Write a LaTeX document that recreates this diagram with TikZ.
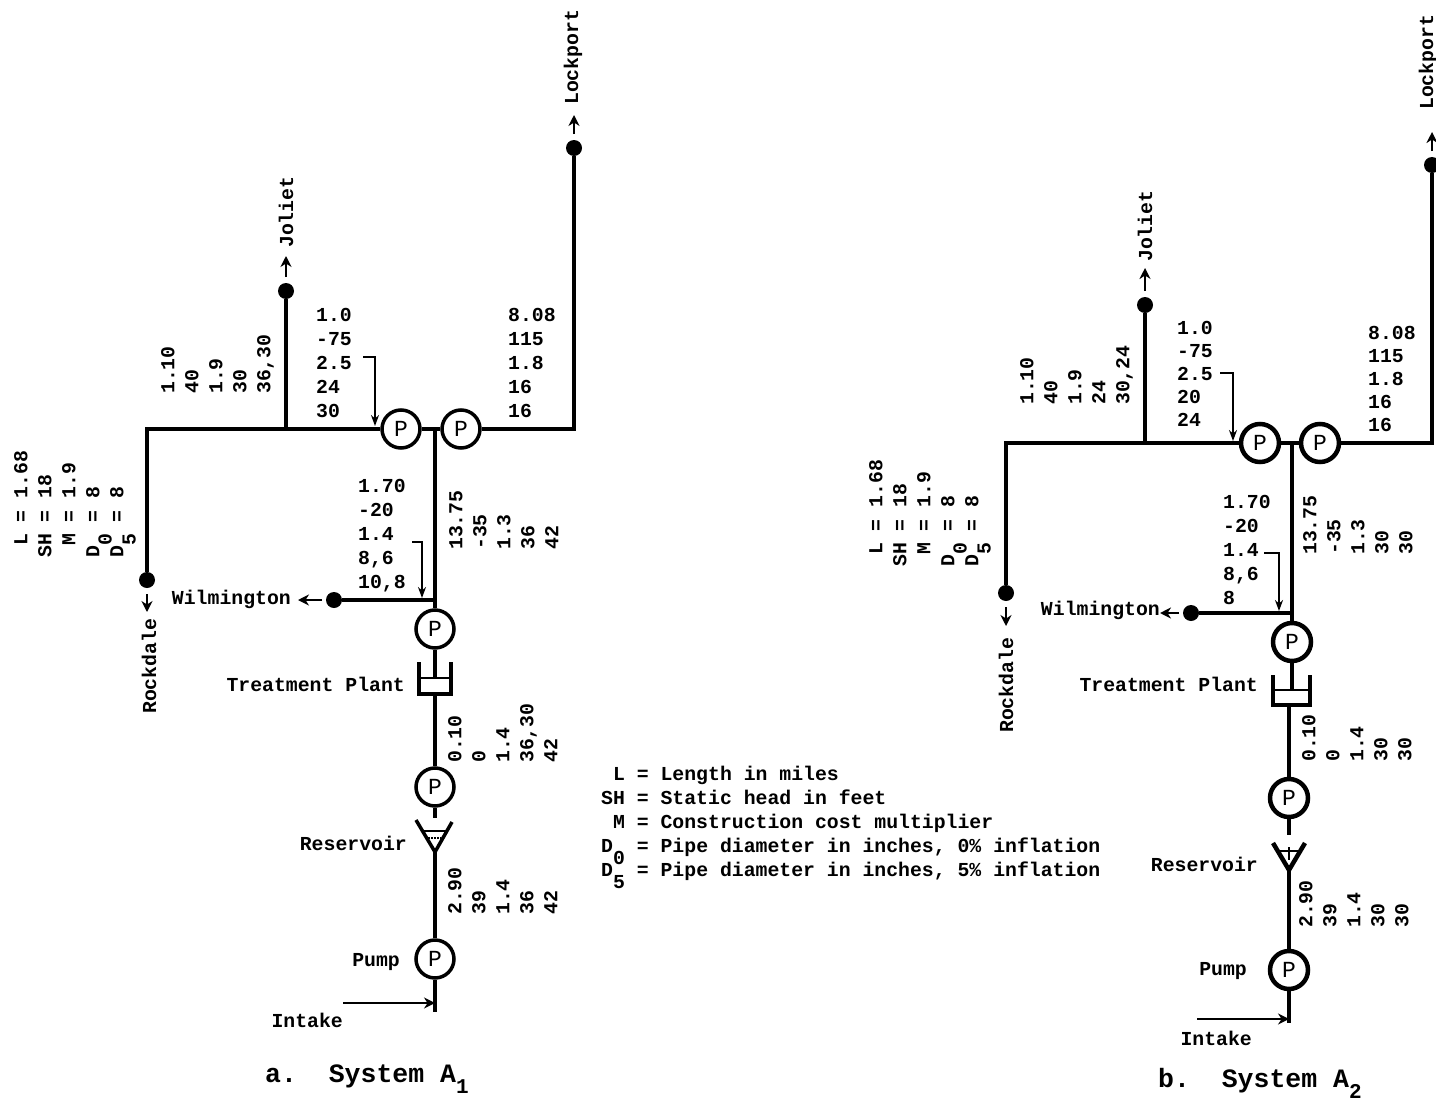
\documentclass[tikz,border=0pt]{standalone}
\usepackage{fontspec}
\setmainfont{Liberation Mono}
\usetikzlibrary{arrows.meta}
\newcommand{\sbs}[1]{\raisebox{-0.62em}[0pt][0pt]{#1}}
\newcommand{\capsbs}[1]{\raisebox{-0.42em}[0pt][0pt]{\fontsize{21}{21}\selectfont\bfseries #1}}
\begin{document}
\begin{tikzpicture}[
    x=1pt, y=-1pt,
    font=\fontsize{19.8}{24}\selectfont\bfseries,
    pipe/.style={line width=3.5pt},
    pipeb/.style={line width=4.5pt},
    flowarr/.style={-{Stealth[length=11pt,width=11pt]}, line width=2.5pt},
    notearr/.style={-{Stealth[length=11pt,width=8pt]}, line width=1.8pt},
    pumpnode/.style={
        circle, draw, fill=white, minimum size=38pt, inner sep=0pt, line width=3.5pt,
        font=\fontsize{23}{23}\selectfont,
    },
    pumpnodeb/.style={pumpnode, line width=4.5pt},
    dotnode/.style={circle, fill=black, minimum size=16pt, inner sep=0pt},
    place/.style={inner sep=0pt},
    upplace/.style={inner sep=0pt, rotate=90, anchor=west},
    stack/.style={inner sep=0pt, anchor=north west, align=left},
    upstack/.style={stack, rotate=90},
    stackb/.style={stack, font=\fontsize{19.8}{23}\selectfont\bfseries},
    caption/.style={inner sep=0pt, anchor=base west, font=\fontsize{26.5}{30}\selectfont\bfseries},
]
\path[fill=white, use as bounding box] (0,0) rectangle (1436,1100);

% System a: pumps and junctions
\node[pumpnode] (pumpAa) at (401,429) {P};
\node[pumpnode] (pumpAb) at (461,429) {P};
\node[pumpnode] (pumpAc) at (435,629) {P};
\node[pumpnode] (pumpAd) at (435,787) {P};
\node[pumpnode] (pumpAe) at (435,959) {P};
\node[dotnode] (rockdaleA) at (147,580) {};
\node[dotnode] (jolietA) at (286,291) {};
\node[dotnode] (lockportA) at (574,148) {};
\node[dotnode] (wilmingtonA) at (334,600) {};
\coordinate (cornerAa) at (147,429);
\coordinate (cornerAb) at (574,429);
\coordinate (teeAa) at (286,429);
\coordinate (teeAb) at (435,429);
\coordinate (teeAc) at (435,600);
\coordinate (cupAtl) at (419,662);
\coordinate (cupAtr) at (451,662);
\coordinate (cupAbl) at (419,694);
\coordinate (cupAbr) at (451,694);
\coordinate (cupAin) at (435,678);
\coordinate (cupAout) at (435,694);
\coordinate (resAl) at (416,820);
\coordinate (resAr) at (452,822);
\coordinate (resAtip) at (435,852);
\coordinate (resAin) at (435,818);
\coordinate (intakeAend) at (435,1012);
\coordinate (intakeAtee) at (435,1003);

% System a: pipes
\draw[pipe] (rockdaleA) -- (cornerAa) -- (pumpAa);
\draw[pipe] (teeAa) -- (jolietA);
\draw[pipe] (pumpAa) -- (pumpAb);
\draw[pipe] (pumpAb) -- (cornerAb) -- (lockportA);
\draw[pipe] (teeAb) -- (pumpAc);
\draw[pipe] (wilmingtonA) -- (teeAc);
\draw[pipe] (pumpAc) -- (cupAin);
\draw[pipe] (cupAtl) -- (cupAbl) -- (cupAbr) -- (cupAtr);
\draw[line width=2.5pt] (cupAbl |- cupAin) -- (cupAbr |- cupAin);
\draw[pipe] (cupAout) -- (pumpAd);
\draw[pipe] (pumpAd) -- (resAin);
\draw[pipe] (resAl) -- (resAtip) -- (resAr);
\draw[line width=2.5pt] (423,831) -- (446,831);
\draw[line width=2pt, densely dotted] (428,838) -- (441,838);
\draw[pipe] (resAtip) -- (pumpAe);
\draw[pipe] (pumpAe) -- (intakeAend);

% System a: towns
\node[upplace] (lockportAtext) at (573,105) {Lockport};
\node[upplace] (jolietAtext) at (286,248) {Joliet};
\node[upplace] (rockdaleAtext) at (149,714) {Rockdale};
\node[place, anchor=east] (wilmingtonAtext) at (291,599) {Wilmington};
\draw[flowarr] (lockportA) ++(0,-14) coordinate (lockportAs) -- (lockportA |- 0,115);
\draw[flowarr] (jolietA) ++(0,-14) coordinate (jolietAs) -- (jolietA |- 0,256);
\draw[flowarr] (rockdaleA) ++(0,14) coordinate (rockdaleAs) -- (rockdaleA |- 0,612);
\draw[flowarr] (wilmingtonA) ++(-12,0) coordinate (wilmingtonAs) -- (298,0 |- wilmingtonA);

% System a: other labels
\node[place, anchor=east] (plantAtext) at (405,684) {Treatment Plant};
\node[place, anchor=east] (reservoirAtext) at (407,843) {Reservoir};
\node[place, anchor=east] (pumpAtext) at (400,962) {Pump};
\node[place, anchor=east] (intakeAtext) at (343,1020) {Intake};
\coordinate (intakeAs) at (343,1003);
\draw[flowarr] (intakeAs) -- (intakeAtee);

% System a: pipe data
\node[upstack] (dataAa) at (14,558) {\ L = 1.68\\SH = 18\\\ M = 1.9\\D\sbs{0} = 8\\D\sbs{5} = 8};
\node[upstack] (dataAb) at (161,394) {1.10\\40\\1.9\\30\\36,30};
\node[stack] (dataAc) at (316,308) {1.0\\-75\\2.5\\24\\30};
\node[stack] (dataAd) at (508,308) {8.08\\115\\1.8\\16\\16};
\node[stack] (dataAe) at (358,479) {1.70\\-20\\1.4\\8,6\\10,8};
\node[upstack] (dataAf) at (449,550) {13.75\\-35\\1.3\\36\\42};
\node[upstack] (dataAg) at (448,763) {0.10\\0\\1.4\\36,30\\42};
\node[upstack] (dataAh) at (448,915) {2.90\\39\\1.4\\36\\42};
\coordinate (noteAa) at (363,357);
\coordinate (noteAb) at (375,426);
\coordinate (noteAc) at (412,542);
\coordinate (noteAd) at (422,598);
\draw[notearr] (noteAa) -| (noteAb);
\draw[notearr] (noteAc) -| (noteAd);

\node[caption] (captionA) at (265,1082) {a.\ \ System A\capsbs{1}};

% Legend
\node[stack] (legend) at (601,766) {\ L = Length in miles\\SH = Static head in feet\\\ M = Construction cost multiplier\\D\sbs{0} = Pipe diameter in inches, 0\% inflation\\D\sbs{5} = Pipe diameter in inches, 5\% inflation};

% System b: pumps and junctions
\node[pumpnodeb] (pumpBa) at (1260,443) {P};
\node[pumpnodeb] (pumpBb) at (1320,443) {P};
\node[pumpnodeb] (pumpBc) at (1292,642) {P};
\node[pumpnodeb] (pumpBd) at (1289,798) {P};
\node[pumpnodeb] (pumpBe) at (1289,970) {P};
\node[dotnode] (rockdaleB) at (1006,593) {};
\node[dotnode] (jolietB) at (1145,305) {};
\node[dotnode] (lockportB) at (1432,165) {};
\node[dotnode] (wilmingtonB) at (1191,613) {};
\coordinate (cornerBa) at (1006,443);
\coordinate (cornerBb) at (1432,443);
\coordinate (teeBa) at (1145,443);
\coordinate (teeBb) at (1292,443);
\coordinate (teeBc) at (1292,613);
\coordinate (cupBtl) at (1273,675);
\coordinate (cupBtr) at (1310,675);
\coordinate (cupBbl) at (1273,705);
\coordinate (cupBbr) at (1310,705);
\coordinate (cupBin) at (1292,690);
\coordinate (cupBout) at (1289,705);
\coordinate (resBl) at (1273,843);
\coordinate (resBr) at (1305,843);
\coordinate (resBtip) at (1289,870);
\coordinate (resBin) at (1289,835);
\coordinate (intakeBend) at (1289,1023);
\coordinate (intakeBtee) at (1289,1019);

% System b: pipes
\draw[pipeb] (rockdaleB) -- (cornerBa) -- (pumpBa);
\draw[pipeb] (teeBa) -- (jolietB);
\draw[pipeb] (pumpBa) -- (pumpBb);
\draw[pipeb] (pumpBb) -- (cornerBb) -- (lockportB);
\draw[pipeb] (teeBb) -- (pumpBc);
\draw[pipeb] (wilmingtonB) -- (teeBc);
\draw[pipe] (pumpBc) -- (cupBin);
\draw[pipeb] (cupBtl) -- (cupBbl) -- (cupBbr) -- (cupBtr);
\draw[line width=2.5pt] (cupBbl |- cupBin) -- (cupBbr |- cupBin);
\draw[pipeb] (cupBout) -- (pumpBd);
\draw[pipeb] (pumpBd) -- (resBin);
\draw[pipeb] (resBl) -- (resBtip) -- (resBr);
\draw[line width=2.5pt] (1279,851) -- (1299,851);
\draw[line width=2pt] (1289,847) -- (1289,860);
\draw[pipeb] (resBtip) -- (pumpBe);
\draw[pipeb] (pumpBe) -- (intakeBend);

% System b: towns
\node[upplace] (lockportBtext) at (1428,110) {Lockport};
\node[upplace] (jolietBtext) at (1145,262) {Joliet};
\node[upplace] (rockdaleBtext) at (1006,733) {Rockdale};
\node[place, anchor=east] (wilmingtonBtext) at (1160,610) {Wilmington};
\draw[flowarr] (lockportB) ++(0,-14) coordinate (lockportBs) -- (lockportB |- 0,132);
\draw[flowarr] (jolietB) ++(0,-14) coordinate (jolietBs) -- (jolietB |- 0,268);
\draw[flowarr] (rockdaleB) ++(0,14) coordinate (rockdaleBs) -- (rockdaleB |- 0,626);
\draw[flowarr] (wilmingtonB) ++(-12,0) coordinate (wilmingtonBs) -- (wilmingtonBtext.east |- wilmingtonB);

% System b: other labels
\node[place, anchor=east] (plantBtext) at (1258,684) {Treatment Plant};
\node[place, anchor=east] (reservoirBtext) at (1258,864) {Reservoir};
\node[place, anchor=east] (pumpBtext) at (1247,971) {Pump};
\node[place, anchor=east] (intakeBtext) at (1252,1038) {Intake};
\coordinate (intakeBs) at (1197,1019);
\draw[flowarr] (intakeBs) -- (intakeBtee);

% System b: pipe data
\node[upstack] (dataBa) at (869,567) {\ L = 1.68\\SH = 18\\\ M = 1.9\\D\sbs{0} = 8\\D\sbs{5} = 8};
\node[upstack] (dataBb) at (1020,405) {1.10\\40\\1.9\\24\\30,24};
\node[stackb] (dataBc) at (1177,321) {1.0\\-75\\2.5\\20\\24};
\node[stackb] (dataBd) at (1368,326) {8.08\\115\\1.8\\16\\16};
\node[stack] (dataBe) at (1223,495) {1.70\\-20\\1.4\\8,6\\8};
\node[upstack] (dataBf) at (1303,555) {13.75\\-35\\1.3\\30\\30};
\node[upstack] (dataBg) at (1302,762) {0.10\\0\\1.4\\30\\30};
\node[upstack] (dataBh) at (1299,928) {2.90\\39\\1.4\\30\\30};
\coordinate (noteBa) at (1220,373);
\coordinate (noteBb) at (1233,441);
\coordinate (noteBc) at (1264,553);
\coordinate (noteBd) at (1279,611);
\draw[notearr] (noteBa) -| (noteBb);
\draw[notearr] (noteBc) -| (noteBd);

\node[caption] (captionB) at (1158,1087) {b.\ \ System A\capsbs{2}};

\end{tikzpicture}
\end{document}
